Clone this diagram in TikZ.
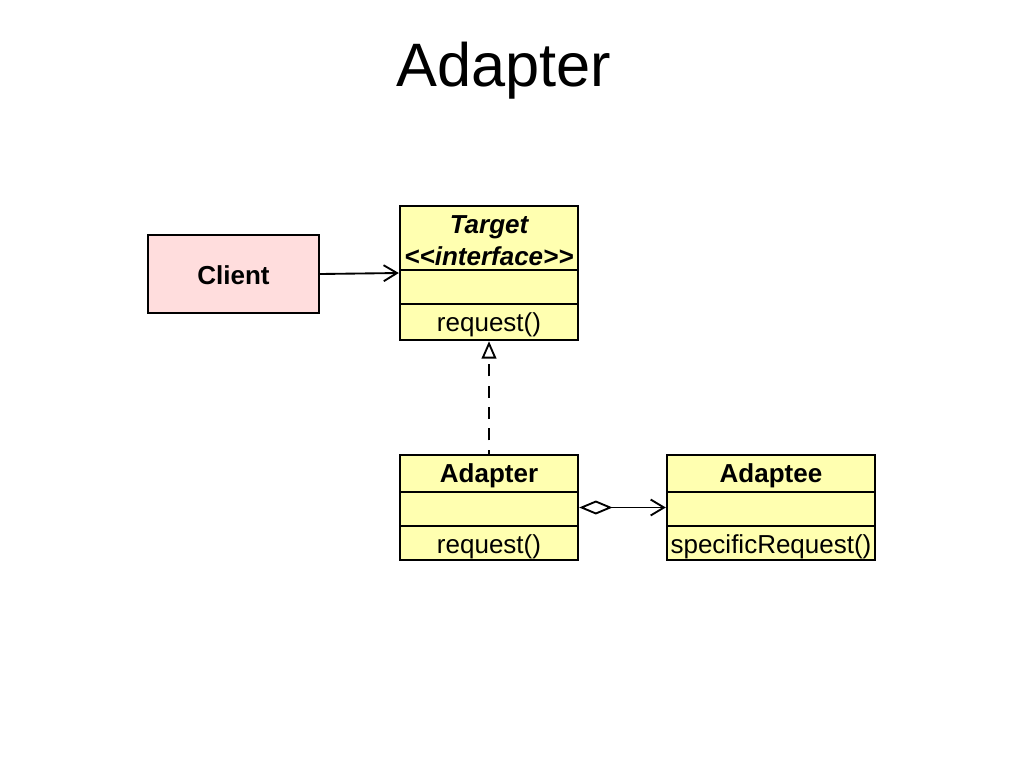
\documentclass[tikz,border=0pt]{standalone}
\usepackage{fontspec}
\setmainfont{Liberation Sans}
\usetikzlibrary{arrows.meta}
\definecolor{classyellow}{RGB}{255,255,176}
\definecolor{clientpink}{RGB}{255,221,221}
\tikzset{
  classbox/.style={draw=black, line width=1.8pt, fill=classyellow, inner sep=0pt},
  clientbox/.style={draw=black, line width=1.8pt, fill=clientpink, inner sep=0pt},
  divider/.style={line width=1.3pt},
  lbl/.style={font=\fontsize{19.5}{22}\selectfont, inner sep=0pt},
  namelbl/.style={font=\fontsize{19.5}{22}\selectfont\bfseries, inner sep=0pt},
  conn/.style={line width=1.4pt},
}
\begin{document}
\begin{tikzpicture}[x=0.75pt,y=-0.75pt]
\useasboundingbox (0,0) rectangle (1024,768);
\node[font=\fontsize{46}{52}\selectfont, inner sep=0pt] (title) at (504,71) {Adapter};

% Client
\node[clientbox, minimum width=128.25pt, minimum height=58.5pt] (client) at (233.5,274) {};
\node[namelbl] (clientname) at (233.5,275) {Client};

% Target
\node[classbox, minimum width=133.5pt, minimum height=100.5pt] (target) at (489,273) {};
\coordinate (t1l) at (400,270); \coordinate (t1r) at (578,270);
\coordinate (t2l) at (400,304); \coordinate (t2r) at (578,304);
\draw[divider] (t1l) -- (t1r);
\draw[divider] (t2l) -- (t2r);
\node[lbl, font=\fontsize{19.5}{22}\selectfont\bfseries\itshape] (tname) at (489,227) {Target};
\node[lbl, font=\fontsize{19.5}{22}\selectfont\bfseries\itshape] (tster) at (489,256) {<{}<interface>{}>};
\node[lbl] (treq) at (489,325) {request()};

% Adapter
\node[classbox, minimum width=133.5pt, minimum height=78.75pt] (adapter) at (489,507.5) {};
\coordinate (a1l) at (400,492); \coordinate (a1r) at (578,492);
\coordinate (a2l) at (400,526); \coordinate (a2r) at (578,526);
\draw[divider] (a1l) -- (a1r);
\draw[divider] (a2l) -- (a2r);
\node[namelbl] (aname) at (489,476) {Adapter};
\node[lbl] (areq) at (489,547) {request()};

% Adaptee
\node[classbox, minimum width=156pt, minimum height=78.75pt] (adaptee) at (771,507.5) {};
\coordinate (b1l) at (667,492); \coordinate (b1r) at (875,492);
\coordinate (b2l) at (667,526); \coordinate (b2r) at (875,526);
\draw[divider] (b1l) -- (b1r);
\draw[divider] (b2l) -- (b2r);
\node[namelbl] (bname) at (771,476) {Adaptee};
\node[lbl] (breq) at (771,547) {specificRequest()};

% Connectors
\draw[conn, -{Straight Barb[length=10pt,width=12pt,line width=1.4pt]}] (client.east) -- (target.west);
\draw[conn, dash pattern=on 9pt off 7pt, dash phase=6pt, -{Triangle[open,length=13pt,width=11pt,line width=1.4pt]}] (adapter.north) -- (target.south);
\draw[conn, {Diamond[open,length=25pt,width=10.5pt,line width=1.4pt]}-{Straight Barb[length=10pt,width=12pt,line width=1.4pt]}] (adapter.east) -- (adaptee.west);
\end{tikzpicture}
\end{document}
